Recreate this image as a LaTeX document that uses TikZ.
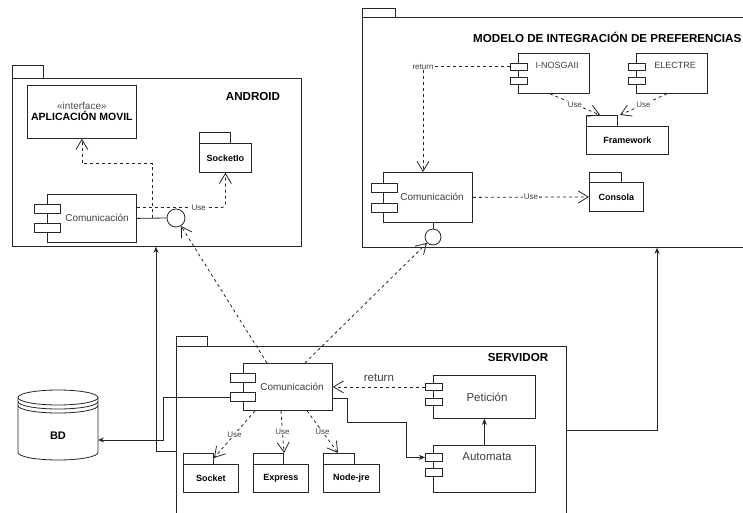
\documentclass[tikz,border=0pt]{standalone}
\usepackage{fontspec}
\setmainfont{Liberation Sans}
\usetikzlibrary{arrows.meta,calc}

\tikzset{
  ln/.style={line width=0.8pt, draw=black!85},
  dep/.style={ln, dash pattern=on 3pt off 3pt, -{Straight Barb[length=10pt,width=12pt]}},
  sol/.style={ln, -{Stealth[length=6pt,width=5pt]}},
  comp/.style={draw=black!85, line width=0.8pt, fill=white, anchor=north west, inner sep=0},
  port/.style={draw=black!85, line width=0.8pt, fill=white, anchor=north west, inner sep=0},
  pkgbox/.style={draw=black!85, line width=0.8pt, fill=white, anchor=north west, inner sep=0,
                 font=\bfseries\fontsize{9}{10}\selectfont},
  lolly/.style={draw=black!85, line width=0.8pt, fill=white, circle, inner sep=0},
  ctext/.style={text=black!75, font=\fontsize{10}{12}\selectfont, inner sep=0},
  btext/.style={text=black!75, font=\fontsize{11.5}{13}\selectfont, inner sep=0},
  stext/.style={text=black!75, font=\fontsize{9}{11}\selectfont, inner sep=0},
  ptitle/.style={font=\bfseries\fontsize{11.6}{13}\selectfont, inner sep=0},
  uselbl/.style={fill=white, inner sep=0.8pt, text=black!75, font=\fontsize{8}{9}\selectfont},
}
% package tab: node name, width, height
\newcommand\pkgtab[3]{\draw[ln, fill=white] (#1.north west) rectangle ++(#2,-#3);}

\begin{document}
\begin{tikzpicture}[x=1pt,y=-1pt]
\useasboundingbox (0,0) rectangle (743,513);
\fill[white] (0,0) rectangle (743,513);
\clip (0,0) rectangle (743,513);

% ---------------- ANDROID ----------------
\node[pkgbox, minimum width=289, minimum height=168] (andpkg) at (12,78) {};
\pkgtab{andpkg}{31}{13}
\node[ptitle] (andtitle) at (253,97) {ANDROID};

\node[comp, minimum width=109, minimum height=53, align=center] (iface) at (27,85)
  {\textcolor{black!70}{\fontsize{10}{12}\selectfont «interface»}\\[-1pt]
   \bfseries\fontsize{10.5}{12}\selectfont APLICACIÓN MOVIL};

\node[pkgbox, minimum width=52, minimum height=29] (socketio) at (199,143) {SocketIo};
\pkgtab{socketio}{31}{11}

\node[comp, minimum width=89, minimum height=48] (andcom) at (47,194) {};
\node[port, minimum width=26, minimum height=9] (andp1) at (34,204) {};
\node[port, minimum width=26, minimum height=9] (andp2) at (34,223) {};
\node[ctext] (andcomt) at (97,218) {Comunicación};

\node[lolly, minimum size=18] (andlol) at (176,218) {};

% ---------------- MODELO ----------------
\node[pkgbox, minimum width=400, minimum height=230] (modpkg) at (362,17) {};
\pkgtab{modpkg}{33}{9}
\node[ptitle, anchor=west] (modtitle) at (473,37) {MODELO DE INTEGRACIÓN DE PREFERENCIAS};

\node[comp, minimum width=71, minimum height=40] (inosg) at (518,53) {};
\node[port, minimum width=17, minimum height=7] (inosp1) at (510,63) {};
\node[port, minimum width=17, minimum height=7] (inosp2) at (510,77) {};
\node[stext] (inosgt) at (557,65) {I-NOSGAII};

\node[comp, minimum width=71, minimum height=40] (electre) at (636,53) {};
\node[port, minimum width=17, minimum height=7] (elecp1) at (628,63) {};
\node[port, minimum width=17, minimum height=7] (elecp2) at (628,77) {};
\node[stext] (electret) at (675,65) {ELECTRE};

\node[pkgbox, minimum width=82, minimum height=28] (framework) at (586,126) {Framework};
\pkgtab{framework}{31}{11}

\node[comp, minimum width=89, minimum height=50] (modcom) at (383,172) {};
\node[port, minimum width=26, minimum height=9] (modp1) at (371,183) {};
\node[port, minimum width=26, minimum height=9] (modp2) at (371,203) {};
\node[ctext] (modcomt) at (432,197) {Comunicación};

\node[pkgbox, minimum width=54, minimum height=29] (consola) at (589,182) {Consola};
\pkgtab{consola}{32}{10}

\node[lolly, minimum size=16] (modlol) at (433,237) {};

% ---------------- SERVIDOR ----------------
\node[pkgbox, minimum width=390, minimum height=180] (srvpkg) at (176,346) {};
\pkgtab{srvpkg}{31}{10}
\node[ptitle] (srvtitle) at (518,358) {SERVIDOR};

\node[comp, minimum width=89, minimum height=47] (srvcom) at (243,363) {};
\node[port, minimum width=25, minimum height=9] (srvp1) at (230,373) {};
\node[port, minimum width=25, minimum height=9] (srvp2) at (230,392) {};
\node[ctext] (srvcomt) at (292,387) {Comunicación};

\node[comp, minimum width=102, minimum height=43] (petic) at (433,375) {};
\node[port, minimum width=17, minimum height=7] (petp1) at (425,383) {};
\node[port, minimum width=17, minimum height=7] (petp2) at (425,398) {};
\node[btext] (petict) at (487,397) {Petición};

\node[comp, minimum width=102, minimum height=47] (autom) at (433,445) {};
\node[port, minimum width=17, minimum height=8] (autp1) at (425,453) {};
\node[port, minimum width=17, minimum height=8] (autp2) at (425,468) {};
\node[btext] (automt) at (487,457) {Automata};

\node[pkgbox, minimum width=55, minimum height=28] (socket) at (183,464) {Socket};
\pkgtab{socket}{30}{11}
\node[pkgbox, minimum width=55, minimum height=28] (express) at (253,464) {Express};
\pkgtab{express}{30}{11}
\node[pkgbox, minimum width=56, minimum height=28] (nodejre) at (323,464) {Node-jre};
\pkgtab{nodejre}{31}{11}

% ---------------- BD (data store) ----------------
\node[minimum width=80, minimum height=70, inner sep=0] (bd) at (58,425) {};
\draw[ln, fill=white] (18,397.5) -- (18,452.5)
  arc[start angle=180, end angle=0, x radius=40, y radius=7.5] -- (98,397.5);
\draw[ln, fill=white] (58,397.5) ellipse [x radius=40, y radius=7.5];
\draw[ln] (18,401.5) arc[start angle=180, end angle=0, x radius=40, y radius=7.5];
\draw[ln] (18,405.5) arc[start angle=180, end angle=0, x radius=40, y radius=7.5];
\node[font=\bfseries\fontsize{11}{13}\selectfont, inner sep=0] (bdt) at (58,436) {BD};
\coordinate (bdin) at (98,440);

% ---------------- connectors ----------------
% Android
\draw[ln] (andcom.east) -- (andlol.west);
\coordinate (andjoint) at ($(andcom.east)+(16,0)$);
\draw[dep] (andjoint) |- ($(iface.south)+(0,25)$) -- (iface.south);
\draw[dep, rounded corners=3pt] ($(andcom.east)+(0,-11)$) -| node[uselbl, pos=0.35] {Use} (socketio.south);

% server towards the two provided interfaces
\draw[dep] ($(srvcom.north west)+(24,0)$) -- (andlol);
\draw[dep] ($(srvcom.north west)+(62,0)$) -- (modlol);

% Modelo
\draw[ln] (modlol.north) -- (modlol.north |- modcom.south);
\draw[dep] (inosp1.west) -| node[uselbl, pos=0.5] {return} ($(modcom.north west)+(40,0)$);
\draw[dep] ($(inosg.south west)+(32,0)$) -- node[uselbl] {Use} ($(framework.north west)+(14,-11)$);
\draw[dep] ($(electre.south west)+(31,0)$) -- node[uselbl] {Use} ($(framework.north west)+(34,-11)$);
\draw[dep] (modcom.east) -- node[uselbl] {Use} (consola.west);

% Servidor
\draw[dep] (petp1.west) -- node[btext, above=5pt, midway] {return} (srvcom.east);
\draw[sol] ($(srvcom.east)+(0,11)$) -- ++(15,0) -- ++(0,24) -| ($(autp1.west)+(-19,0)$) -- (autp1.west);
\draw[sol] (autom.north) -- (petic.south);
\draw[dep] ($(srvcom.south west)+(12,0)$) -- node[uselbl] {Use} ($(socket.north west)+(31,-6)$);
\draw[dep] ($(srvcom.south west)+(38,0)$) -- node[uselbl] {Use} ($(express.north west)+(31,-11)$);
\draw[dep] ($(srvcom.south west)+(64,0)$) -- node[uselbl] {Use} ($(nodejre.north west)+(15,-11)$);

% database and package links
\draw[sol] (srvp2.west) -- ++(-67,0) |- (bdin);
\draw[sol] ($(srvpkg.north west)+(0,105)$) -| ($(andpkg.south west)+(144,0)$);
\draw[sol] ($(srvpkg.north east)+(0,84)$) -| ($(modpkg.south west)+(295,0)$);
\end{tikzpicture}
\end{document}
